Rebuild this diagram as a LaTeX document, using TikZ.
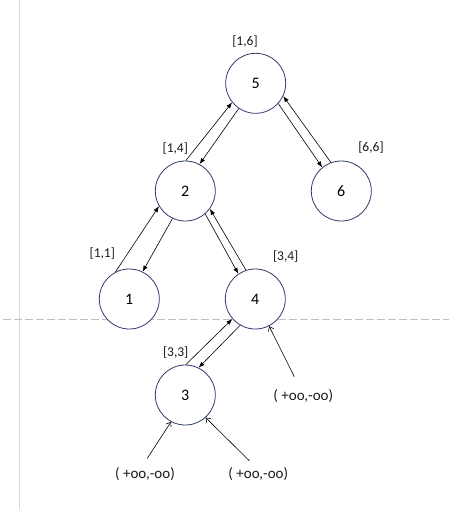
\documentclass[tikz,border=0pt]{standalone}
\usepackage{fontspec}
\setmainfont{Carlito}
\usetikzlibrary{arrows.meta}
\definecolor{circ}{HTML}{2F3B6B}
\definecolor{vline}{HTML}{D9D9D9}
\definecolor{dline}{HTML}{BFBFBF}
\tikzset{
  tnode/.style={circle,draw=circ,line width=0.8pt,fill=white,minimum size=60pt,inner sep=0pt,font=\fontsize{16}{18}\selectfont},
  lbl/.style={inner sep=0pt,font=\fontsize{13.5}{16}\selectfont,text=black!90},
  inf/.style={inner sep=0pt,font=\fontsize{15}{17}\selectfont,text=black!90},
  farr/.style={line width=0.6pt,-{Latex[length=6pt,width=4.5pt]}},
  oarr/.style={line width=0.6pt,-{Straight Barb[length=4pt,width=6pt]}}
}
\begin{document}
\begin{tikzpicture}[x=1pt,y=-1pt]
\useasboundingbox (0,0) rectangle (449,509);
\draw[vline,line width=1pt] (19.5,0) -- (19.5,509);
\draw[dline,line width=1pt,dash pattern=on 7.5pt off 3.5pt] (3,319) -- (449,319);
\node[tnode] (n5) at (255.7,83.3) {5};
\node[tnode] (n2) at (185.3,191) {2};
\node[tnode] (n6) at (341.3,191) {6};
\node[tnode] (n1) at (129.3,299) {1};
\node[tnode] (n4) at (255.3,299) {4};
\node[tnode] (n3) at (185.3,395) {3};
\node[lbl] (l5) at (245,41.7) {[1,6]};
\node[lbl] (l2) at (175.3,148.3) {[1,4]};
\node[lbl] (l6) at (371,148) {[6,6]};
\node[lbl] (l1) at (102.3,253.3) {[1,1]};
\node[lbl] (l4) at (285.7,256.7) {[3,4]};
\node[lbl] (l3) at (175.7,352.3) {[3,3]};
\node[inf] (i4) at (303.3,395.7) {( +oo,-oo)};
\node[inf] (i3a) at (145,474) {( +oo,-oo)};
\node[inf] (i3b) at (258.3,474) {( +oo,-oo)};
\coordinate (c4) at (294.3,376.7);
\coordinate (c3a) at (147.3,458.3);
\coordinate (c3b) at (249.3,460.7);
\draw[farr] (n2.89) -- (n5.219);
\draw[farr] (n5.236) -- (n2.62);
\draw[farr] (n5.318) -- (n6.129);
\draw[farr] (n6.110) -- (n5.335);
\draw[farr] (n1.117) -- (n2.210);
\draw[farr] (n2.245) -- (n1.64);
\draw[farr] (n2.311) -- (n4.124);
\draw[farr] (n4.108) -- (n2.324);
\draw[farr] (n3.89) -- (n4.221);
\draw[farr] (n4.240) -- (n3.64);
\draw[oarr] (c4) -- (n4.297);
\draw[oarr] (c3a) -- (n3.242);
\draw[oarr] (c3b) -- (n3.312);
\end{tikzpicture}
\end{document}
